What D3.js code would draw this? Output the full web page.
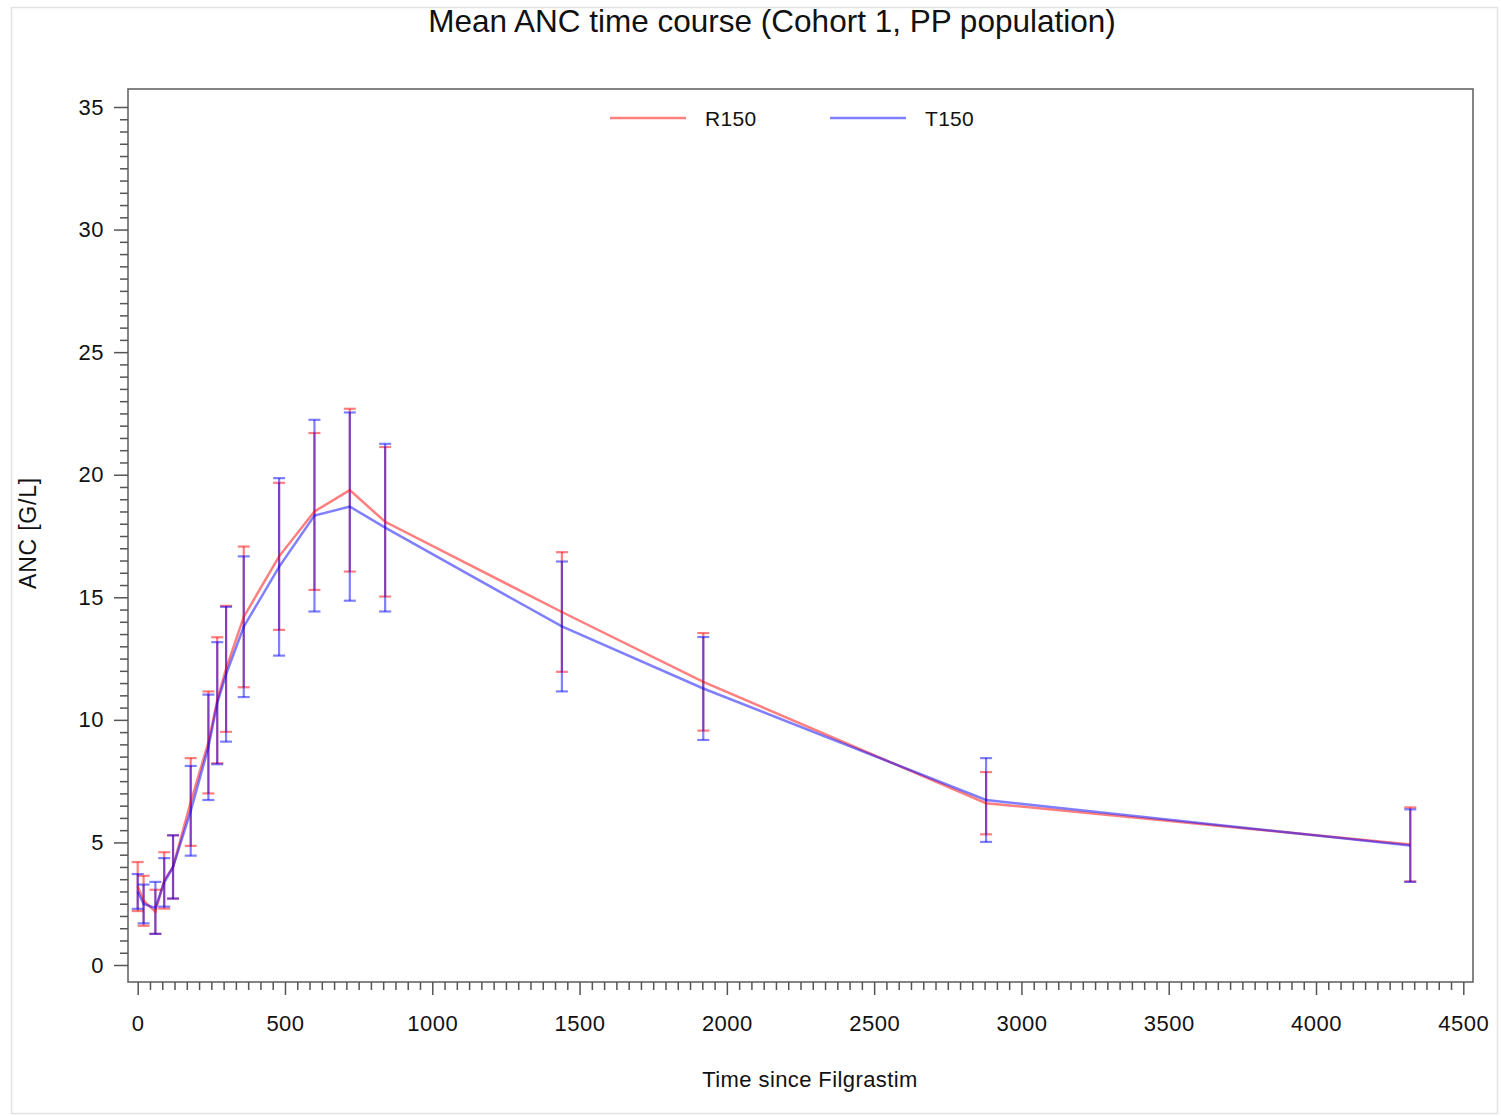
<!DOCTYPE html>
<html>
<head>
<meta charset="utf-8">
<script src="https://cdn.jsdelivr.net/npm/d3@7"></script>
<style>
  body { margin: 0; background: #fff; }
  text { font-family: "Liberation Sans", Arial, sans-serif; fill: #111; }
</style>
</head>
<body>
<svg id="chart"></svg>
<script>
// time points (minutes since Filgrastim)
const times = [0, 20, 60, 90, 120, 180, 240, 270, 300, 360, 480, 600, 720, 840, 1440, 1920, 2880, 4320];

// R150 mean and SD
const r150Mean = [3.2, 2.62, 2.17, 3.45, 4.0, 6.65, 9.08, 10.8, 12.08, 14.2, 16.67, 18.5, 19.37, 18.08, 14.4, 11.55, 6.6, 4.92];
const r150Sd = [1.0, 1.02, 0.9, 1.15, 1.29, 1.79, 2.08, 2.57, 2.57, 2.87, 3.0, 3.2, 3.32, 3.05, 2.44, 1.99, 1.27, 1.51];

// T150 mean and SD
const t150Mean = [3.0, 2.49, 2.33, 3.37, 4.0, 6.29, 8.88, 10.68, 11.86, 13.8, 16.24, 18.33, 18.7, 17.84, 13.81, 11.28, 6.73, 4.87];
const t150Sd = [0.71, 0.79, 1.06, 0.99, 1.29, 1.83, 2.15, 2.49, 2.75, 2.87, 3.62, 3.91, 3.84, 3.42, 2.65, 2.1, 1.71, 1.48];

const seriesNames = ['R150', 'T150'];
const xTicks = [0, 500, 1000, 1500, 2000, 2500, 3000, 3500, 4000, 4500];
const yTicks = [0, 5, 10, 15, 20, 25, 30, 35];

const chartTitle = 'Mean ANC time course (Cohort 1, PP population)';
const xTitle = 'Time since Filgrastim';
const yTitle = 'ANC [G/L]';

const width = 1501, height = 1116;
// plot frame
const frame = {left: 128, right: 1473, top: 89, bottom: 982};

const colors = {R150: 'rgba(255,0,0,0.5)', T150: 'rgba(0,0,255,0.5)'};

const svg = d3.select('#chart').attr('width', width).attr('height', height);

// outer light border
svg.append('rect')
    .attr('x', 11.5).attr('y', 7.5)
    .attr('width', 1486).attr('height', 1106)
    .attr('fill', 'none').attr('stroke', '#e2e2e2').attr('stroke-width', 1.5);

let xScale = d3.scaleLinear().domain([0, 4500]).range([137.7, 1463.3]);
let yScale = d3.scaleLinear().domain([0, 35]).range([965, 107]);

// frame
svg.append('rect')
    .attr('x', frame.left).attr('y', frame.top)
    .attr('width', frame.right - frame.left).attr('height', frame.bottom - frame.top)
    .attr('fill', 'none').attr('stroke', '#666').attr('stroke-width', 1.6);

// minor ticks
let xMinor = d3.range(0, 4500.01, 500 / 12).filter(v => Math.abs(v / 500 - Math.round(v / 500)) > 1e-6);
let yMinor = d3.range(0, 35.01, 0.5).filter(v => v % 5 !== 0);

svg.append('g')
    .attr('transform', 'translate(0,' + frame.bottom + ')')
    .call(d3.axisBottom(xScale).tickValues(xMinor).tickSize(8).tickFormat(''))
    .call(g => g.select('.domain').remove());

svg.append('g')
    .attr('transform', 'translate(' + frame.left + ',0)')
    .call(d3.axisLeft(yScale).tickValues(yMinor).tickSize(8).tickFormat(''))
    .call(g => g.select('.domain').remove());

// major ticks with labels
let xAxis = svg.append('g')
    .attr('transform', 'translate(0,' + frame.bottom + ')')
    .call(d3.axisBottom(xScale).tickValues(xTicks).tickSize(13).tickPadding(20).tickFormat(d3.format('d')));
xAxis.select('.domain').remove();

let yAxis = svg.append('g')
    .attr('transform', 'translate(' + frame.left + ',0)')
    .call(d3.axisLeft(yScale).tickValues(yTicks).tickSize(14).tickPadding(10));
yAxis.select('.domain').remove();

svg.selectAll('.tick line').attr('stroke', '#555').attr('stroke-width', 1.5);
svg.selectAll('.tick text')
    .style('font-family', '"Liberation Sans", Arial, sans-serif')
    .style('font-size', '22px').style('letter-spacing', '0.5px').attr('fill', '#111');

// build series
let series = [
    {name: 'R150', values: times.map((t, i) => ({t: t, m: r150Mean[i], sd: r150Sd[i]}))},
    {name: 'T150', values: times.map((t, i) => ({t: t, m: t150Mean[i], sd: t150Sd[i]}))}
];

let line = d3.line().x(d => xScale(d.t)).y(d => yScale(d.m));

let capHalf = 6;
series.forEach(s => {
    let g = svg.append('g').attr('stroke', colors[s.name]).attr('stroke-width', 2.2).attr('fill', 'none');

    // error bars
    g.selectAll('.bar')
        .data(s.values)
        .join('line')
        .attr('x1', d => xScale(d.t)).attr('x2', d => xScale(d.t))
        .attr('y1', d => yScale(d.m - d.sd)).attr('y2', d => yScale(d.m + d.sd));

    g.selectAll('.capTop')
        .data(s.values)
        .join('line')
        .attr('x1', d => xScale(d.t) - capHalf).attr('x2', d => xScale(d.t) + capHalf)
        .attr('y1', d => yScale(d.m + d.sd)).attr('y2', d => yScale(d.m + d.sd));

    g.selectAll('.capBottom')
        .data(s.values)
        .join('line')
        .attr('x1', d => xScale(d.t) - capHalf).attr('x2', d => xScale(d.t) + capHalf)
        .attr('y1', d => yScale(d.m - d.sd)).attr('y2', d => yScale(d.m - d.sd));
});

// mean lines
series.forEach(s => {
    svg.append('path')
        .datum(s.values)
        .attr('fill', 'none')
        .attr('stroke', colors[s.name])
        .attr('stroke-width', 2.5)
        .attr('d', line);
});

// legend
let legendX = [610, 830];
seriesNames.forEach((name, i) => {
    svg.append('line')
        .attr('x1', legendX[i]).attr('x2', legendX[i] + 76)
        .attr('y1', 118).attr('y2', 118)
        .attr('stroke', colors[name]).attr('stroke-width', 2.5);
    svg.append('text')
        .attr('x', legendX[i] + 95).attr('y', 126)
        .style('font-size', '21px')
        .style('letter-spacing', '0.3px')
        .text(name);
});

// titles
svg.append('text')
    .attr('x', 772).attr('y', 32)
    .attr('text-anchor', 'middle')
    .style('font-size', '31.5px')
    .text(chartTitle);

svg.append('text')
    .attr('x', 810).attr('y', 1087)
    .attr('text-anchor', 'middle')
    .style('font-size', '22px')
    .style('letter-spacing', '0.4px')
    .text(xTitle);

svg.append('text')
    .attr('transform', 'translate(36,533) rotate(-90)')
    .attr('text-anchor', 'middle')
    .style('font-size', '23px')
    .style('letter-spacing', '0.8px')
    .text(yTitle);
</script>
</body>
</html>
